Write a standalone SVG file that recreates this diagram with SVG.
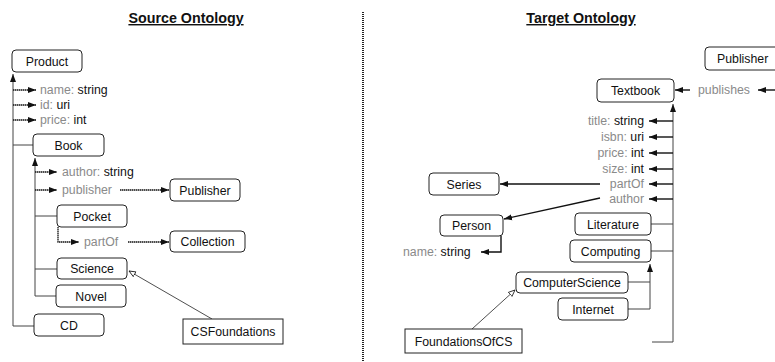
<svg xmlns="http://www.w3.org/2000/svg" width="775" height="362" viewBox="0 0 775 362">
<defs>
<marker id="arr" markerUnits="userSpaceOnUse" markerWidth="9" markerHeight="7" refX="8" refY="3.5" orient="auto"><path d="M0,0.5 L8,3.5 L0,6.5 z" fill="#111"/></marker>
<marker id="hollow" markerUnits="userSpaceOnUse" markerWidth="8" markerHeight="7" refX="7" refY="3.5" orient="auto"><path d="M0.5,0.8 L7,3.5 L0.5,6.2 z" fill="#fff" stroke="#111" stroke-width="0.8"/></marker>
<style>
text{font-family:"Liberation Sans",Arial,sans-serif;font-size:12.3px;fill:#111}
.title{font-size:14.3px;font-weight:bold;text-decoration:underline;text-anchor:middle}
.c{text-anchor:middle}
.r{text-anchor:end}
.g{fill:#8a8a8a}
.box{fill:#fff;stroke:#222;stroke-width:1}
.sq{fill:#fff;stroke:#222;stroke-width:1}
.tree{fill:none;stroke:#444;stroke-width:1}
.dot{fill:none;stroke:#111;stroke-width:1.3;stroke-dasharray:1.5 0.5}
.sol{fill:none;stroke:#111;stroke-width:1.4}
.thin{fill:none;stroke:#222;stroke-width:0.8}
</style>
</defs>
<text class="title" x="186" y="23">Source Ontology</text>
<text class="title" x="581" y="23">Target Ontology</text>
<line x1="363" y1="12" x2="363" y2="362" stroke="#222" stroke-width="2" stroke-dasharray="1 1"/>

<g id="connectors">
<!-- source tree -->
<path class="tree" d="M13,326 V74" marker-end="url(#arr)"/>
<path class="tree" d="M13,326 H34 M13,145 H33"/>
<path class="dot" d="M13,90 H36" marker-end="url(#arr)"/>
<path class="dot" d="M13,105 H36" marker-end="url(#arr)"/>
<path class="dot" d="M13,120 H36" marker-end="url(#arr)"/>
<path class="tree" d="M35,296 V158" marker-end="url(#arr)"/>
<path class="tree" d="M35,216 H57 M35,269 H57 M35,296 H56"/>
<path class="dot" d="M35,172 H57" marker-end="url(#arr)"/>
<path class="dot" d="M35,190 H57" marker-end="url(#arr)"/>
<path class="dot" d="M120,190 H169" marker-end="url(#arr)"/>
<path class="dot" d="M58,227 V242 H79" marker-end="url(#arr)"/>
<path class="dot" d="M128,242 H169" marker-end="url(#arr)"/>
<path class="thin" d="M212,319 L129,271" marker-end="url(#hollow)"/>
<!-- target -->
<path class="sol" d="M690,90 H675" marker-end="url(#arr)"/>
<path class="sol" d="M776,90 H758" marker-end="url(#arr)"/>
<path class="tree" d="M673,342 V104" marker-end="url(#arr)"/>
<path class="tree" d="M673,342 H652 M651,224 H673 M651,251 H673"/>
<path class="sol" d="M673,121 H649" marker-end="url(#arr)"/>
<path class="sol" d="M673,137 H649" marker-end="url(#arr)"/>
<path class="sol" d="M673,153 H649" marker-end="url(#arr)"/>
<path class="sol" d="M673,169 H649" marker-end="url(#arr)"/>
<path class="sol" d="M673,184 H649" marker-end="url(#arr)"/>
<path class="sol" d="M673,199 H649" marker-end="url(#arr)"/>
<path class="sol" d="M600,184 H500" marker-end="url(#arr)"/>
<path class="sol" d="M600,198 L504,219" marker-end="url(#arr)"/>
<path class="sol" d="M501,236 V252 H481" marker-end="url(#arr)"/>
<path class="tree" d="M650,309 V264" marker-end="url(#arr)"/>
<path class="tree" d="M628,282 H650 M628,309 H650"/>
<path class="thin" d="M472,329 L515,290" marker-end="url(#hollow)"/>
</g>

<!-- source attributes -->
<text x="40" y="94"><tspan class="g">name:</tspan> string</text>
<text x="40" y="109"><tspan class="g">id:</tspan> uri</text>
<text x="40" y="124"><tspan class="g">price:</tspan> int</text>
<text x="62" y="176"><tspan class="g">author:</tspan> string</text>
<text x="62" y="194" class="g">publisher</text>
<text x="84" y="246" class="g">partOf</text>

<g id="Product"><rect class="box" x="12" y="50" width="70" height="22" rx="4"/><text class="c" x="47" y="65.5">Product</text></g>
<g id="Book"><rect class="box" x="33" y="134" width="71" height="22" rx="4"/><text class="c" x="68.5" y="149.5">Book</text></g>
<g id="Publisher_src"><rect class="box" x="170" y="179" width="70" height="22" rx="4"/><text class="c" x="205" y="194.5">Publisher</text></g>
<g id="Pocket"><rect class="box" x="57" y="205" width="70" height="22" rx="4"/><text class="c" x="92" y="220.5">Pocket</text></g>
<g id="Collection"><rect class="box" x="170" y="231" width="75" height="21" rx="4"/><text class="c" x="207.5" y="246">Collection</text></g>
<g id="Science"><rect class="box" x="57" y="258" width="70" height="21" rx="4"/><text class="c" x="92" y="273">Science</text></g>
<g id="Novel"><rect class="box" x="56" y="285" width="70" height="22" rx="4"/><text class="c" x="91" y="300.5">Novel</text></g>
<g id="CD"><rect class="box" x="34" y="314" width="70" height="22" rx="4"/><text class="c" x="69" y="329.5">CD</text></g>
<g id="CSFoundations"><rect class="sq" x="183" y="319" width="100" height="25"/><text class="c" x="233" y="336">CSFoundations</text></g>

<!-- target attributes -->
<text x="698" y="94" class="g">publishes</text>
<text class="r" x="644" y="125"><tspan class="g">title:</tspan> string</text>
<text class="r" x="644" y="141"><tspan class="g">isbn:</tspan> uri</text>
<text class="r" x="644" y="157"><tspan class="g">price:</tspan> int</text>
<text class="r" x="644" y="173"><tspan class="g">size:</tspan> int</text>
<text class="r g" x="644" y="188">partOf</text>
<text class="r g" x="644" y="203">author</text>
<text x="403" y="256"><tspan class="g">name:</tspan> string</text>

<g id="Publisher_tgt"><rect class="box" x="705" y="47" width="80" height="23" rx="4"/><text x="717" y="63">Publisher</text></g>
<g id="Textbook"><rect class="box" x="597" y="79" width="77" height="23" rx="4"/><text class="c" x="635.5" y="95">Textbook</text></g>
<g id="Series"><rect class="box" x="429" y="173" width="70" height="22" rx="4"/><text class="c" x="464" y="188.5">Series</text></g>
<g id="Person"><rect class="box" x="440" y="215" width="63" height="21" rx="4"/><text class="c" x="471.5" y="230">Person</text></g>
<g id="Literature"><rect class="box" x="575" y="213" width="76" height="22" rx="4"/><text class="c" x="613" y="228.5">Literature</text></g>
<g id="Computing"><rect class="box" x="570" y="240" width="81" height="22" rx="4"/><text class="c" x="610.5" y="255.5">Computing</text></g>
<g id="ComputerScience"><rect class="box" x="516" y="272" width="112" height="21" rx="4"/><text class="c" x="572" y="287">ComputerScience</text></g>
<g id="Internet"><rect class="box" x="558" y="298" width="70" height="22" rx="4"/><text class="c" x="593" y="313.5">Internet</text></g>
<g id="FoundationsOfCS"><rect class="sq" x="405" y="329" width="117" height="24"/><text class="c" x="463.5" y="345.5">FoundationsOfCS</text></g>
</svg>
